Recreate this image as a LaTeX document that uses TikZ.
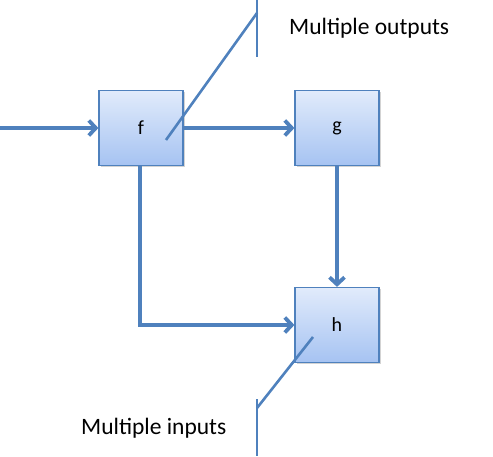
\documentclass[tikz,border=0pt]{standalone}
\usepackage{fontspec}
\setmainfont{Carlito}
\usetikzlibrary{arrows.meta,shadows}
\definecolor{lineblue}{HTML}{4F81BD}
\definecolor{boxtop}{HTML}{E1EBFB}
\definecolor{boxbot}{HTML}{A6C3F2}
\newcommand{\boxfont}{\fontsize{20}{22}\selectfont}
\tikzset{
  fbox/.style={draw=lineblue, line width=1.2pt, top color=boxtop, bottom color=boxbot,
    minimum width=84pt, minimum height=75pt, inner sep=0pt,
    drop shadow={shadow xshift=1.5pt, shadow yshift=-1.5pt, opacity=0.35, fill=gray}},
  conn/.style={draw=lineblue, line width=3.8pt, -{Straight Barb[length=7pt,width=15pt,line width=3.8pt]}},
  callout/.style={draw=lineblue, line width=2.6pt},
  lbl/.style={font=\fontsize{23.5}{26}\selectfont, anchor=west, inner sep=0pt}
}
\begin{document}
\begin{tikzpicture}[x=1pt,y=-1pt]
\useasboundingbox (0,0) rectangle (493,457);
\node[fbox] (f) at (141,128) {\boxfont f};
\node[fbox] (g) at (337,128) {\boxfont g};
\node[fbox] (h) at (337,325) {\boxfont h};
\coordinate (in) at (0,128);
\draw[conn] (in) -- (f.west);
\draw[conn] (f.east) -- (g.west);
\draw[conn] (g.south) -- (h.north);
\coordinate (fb) at (140,166);
\coordinate (corner) at (140,325);
\draw[conn] (fb) -- (corner) -- (h.west |- corner);
% callout outputs
\coordinate (c1a) at (166,140);
\coordinate (c1b) at (257,13);
\coordinate (c1t) at (257,0);
\coordinate (c1d) at (257,57);
\draw[callout] (c1a) -- (c1b);
\draw[callout] (c1t) -- (c1d);
\node[lbl] (mo) at (289,28) {Multiple outputs};
% callout inputs
\coordinate (c2a) at (313,337);
\coordinate (c2b) at (257,408);
\coordinate (c2t) at (257,399);
\coordinate (c2d) at (257,456);
\draw[callout] (c2a) -- (c2b);
\draw[callout] (c2t) -- (c2d);
\node[lbl] (mi) at (81,428) {Multiple inputs};
\end{tikzpicture}
\end{document}
